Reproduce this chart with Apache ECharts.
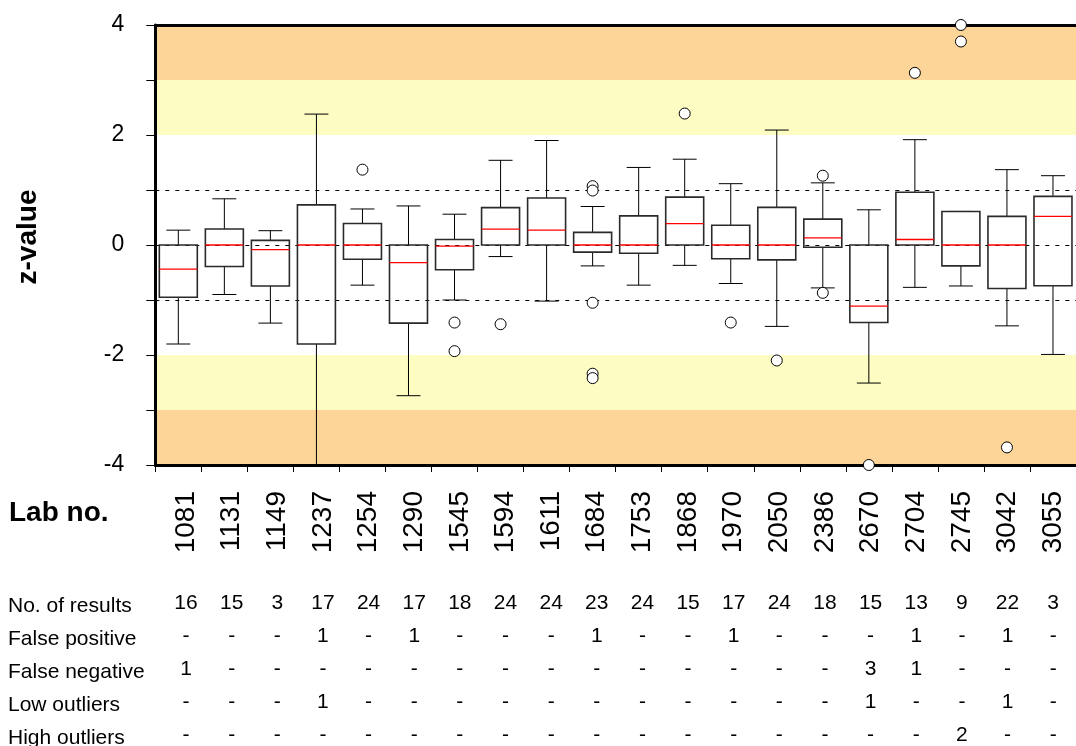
<!DOCTYPE html>
<html>
<head>
<meta charset="utf-8">
<script src="https://cdn.jsdelivr.net/npm/echarts@6/dist/echarts.min.js"></script>
<style>
  html, body { margin: 0; padding: 0; background: #fff; }
  #chart { width: 1076px; height: 746px; }
</style>
</head>
<body>
<div id="chart"></div>
<script>
// Laboratory numbers (x categories)
const labs = ['1081', '1131', '1149', '1237', '1254', '1290', '1545', '1594', '1611', '1684',
              '1753', '1868', '1970', '2050', '2386', '2670', '2704', '2745', '3042', '3055'];

// Box-and-whisker statistics of the z-values per lab
const whiskerLow  = [-1.80, -0.90, -1.42, -4.00, -0.73, -2.74, -1.00, -0.21, -1.02, -0.38,
                     -0.73, -0.37, -0.70, -1.48, -0.78, -2.51, -0.77, -0.745, -1.47, -1.99];
const quartile1   = [-0.95, -0.39, -0.745, -1.80, -0.26, -1.42, -0.45, 0.00, 0.00, -0.13,
                     -0.15, 0.00, -0.25, -0.27, -0.04, -1.41, 0.00, -0.38, -0.79, -0.74];
const medians     = [-0.44, 0.00, -0.085, 0.00, 0.00, -0.32, -0.02, 0.29, 0.27, 0.00,
                     0.00, 0.39, 0.00, 0.00, 0.13, -1.11, 0.10, 0.00, 0.00, 0.52];
const quartile3   = [0.00, 0.29, 0.085, 0.73, 0.39, 0.00, 0.10, 0.68, 0.855, 0.23,
                     0.53, 0.87, 0.36, 0.685, 0.47, 0.00, 0.96, 0.61, 0.52, 0.885];
const whiskerHigh = [0.27, 0.84, 0.26, 2.38, 0.655, 0.71, 0.56, 1.54, 1.90, 0.70,
                     1.41, 1.56, 1.115, 2.09, 1.13, 0.64, 1.915, 0.61, 1.37, 1.26];

// Individual results outside the whiskers
const outlierLabs   = ['1254', '1545', '1545', '1594', '1684', '1684', '1684', '1684', '1684',
                       '1868', '1970', '2050', '2386', '2386', '2670', '2704', '2745', '2745', '3042'];
const outlierValues = [1.37, -1.41, -1.93, -1.44, 1.07, 0.99, -1.05, -2.34, -2.42,
                       2.39, -1.41, -2.10, 1.26, -0.87, -4.00, 3.13, 4.00, 3.70, -3.68];

// Summary table below the chart (0 is printed as "-")
const resultCounts   = [16, 15, 3, 17, 24, 17, 18, 24, 24, 23, 24, 15, 17, 24, 18, 15, 13, 9, 22, 3];
const falsePositives = [0, 0, 0, 1, 0, 1, 0, 0, 0, 1, 0, 0, 1, 0, 0, 0, 1, 0, 1, 0];
const falseNegatives = [1, 0, 0, 0, 0, 0, 0, 0, 0, 0, 0, 0, 0, 0, 0, 3, 1, 0, 0, 0];
const lowOutliers    = [0, 0, 0, 1, 0, 0, 0, 0, 0, 0, 0, 0, 0, 0, 0, 1, 0, 0, 1, 0];
const highOutliers   = [0, 0, 0, 0, 0, 0, 0, 0, 0, 0, 0, 0, 0, 0, 0, 0, 0, 2, 0, 0];
const rowTitles = ['No. of results', 'False positive', 'False negative', 'Low outliers', 'High outliers'];
const tableRows = [resultCounts, falsePositives, falseNegatives, lowOutliers, highOutliers];

// Y axis: labelled ticks and reference levels
const yLabelValues = [-4, -2, 0, 2, 4];
const guideLevels = [-1, 0, 1];
const warningBands = [[-3, -2], [2, 3]];
const actionBands = [[-4, -3], [3, 4]];

const FONT = '"Liberation Sans", Arial, Helvetica, sans-serif';
const ORANGE = '#FDD598';
const YELLOW = '#FCFCC3';

// vertical centres of the table rows
const rowY = [606, 639.5, 672.5, 705.5, 738.5];
const AXIS_Y = 465;

const boxData = labs.map((_, i) => [i, whiskerLow[i], quartile1[i], medians[i], quartile3[i], whiskerHigh[i]]);
const outlierData = outlierLabs.map((lab, i) => [lab, outlierValues[i]]);

function renderBox(params, api) {
  const idx = api.value(0);
  const lo = api.coord([idx, api.value(1)]);
  const q1 = api.coord([idx, api.value(2)]);
  const md = api.coord([idx, api.value(3)]);
  const q3 = api.coord([idx, api.value(4)]);
  const hi = api.coord([idx, api.value(5)]);
  const band = api.size([1, 0])[0];
  const cx = md[0];
  const bw = band * 0.825;
  const cw = band * 0.52;
  const whisker = { stroke: '#000', lineWidth: 1 };
  return {
    type: 'group',
    children: [
      { type: 'line', shape: { x1: cx, y1: hi[1], x2: cx, y2: q3[1] }, style: whisker },
      { type: 'line', shape: { x1: cx, y1: q1[1], x2: cx, y2: lo[1] }, style: whisker },
      { type: 'line', shape: { x1: cx - cw / 2, y1: hi[1], x2: cx + cw / 2, y2: hi[1] }, style: whisker },
      { type: 'line', shape: { x1: cx - cw / 2, y1: lo[1], x2: cx + cw / 2, y2: lo[1] }, style: whisker },
      { type: 'rect', shape: { x: cx - bw / 2, y: q3[1], width: bw, height: q1[1] - q3[1] },
        style: { fill: 'none', stroke: '#2a2a2a', lineWidth: 1.6 } },
      { type: 'line', shape: { x1: cx - bw / 2, y1: md[1], x2: cx + bw / 2, y2: md[1] },
        style: { stroke: '#ff0000', lineWidth: 1.3 } }
    ]
  };
}

const tableAxes = tableRows.map((row, k) => ({
  gridIndex: 1,
  type: 'category',
  data: labs,
  position: 'bottom',
  offset: rowY[k] - AXIS_Y,
  axisLine: { show: false, onZero: false },
  axisTick: { show: false },
  axisLabel: {
    interval: 0, margin: 0, fontSize: 21, fontFamily: FONT, color: '#000',
    verticalAlign: 'middle', lineHeight: 21,
    formatter: (v, i) => (row[i] ? String(row[i]) : '-')
  }
}));

const option = {
  animation: false,
  textStyle: { fontFamily: FONT },
  grid: [
    { left: 155.3, top: 25, width: 930.2, height: 440 },
    { left: 163.2, top: 25, width: 921.2, height: 440 }
  ],
  xAxis: [
    {
      gridIndex: 0, type: 'category', data: labs, position: 'bottom', z: 3,
      axisLine: { show: true, onZero: false, lineStyle: { color: '#000', width: 3 } },
      axisTick: { show: true, length: 7, lineStyle: { color: '#000', width: 1 } },
      axisLabel: { show: false }
    },
    {
      gridIndex: 0, type: 'category', data: labs, position: 'top', z: 3,
      axisLine: { show: true, onZero: false, lineStyle: { color: '#000', width: 3 } },
      axisTick: { show: false },
      axisLabel: { show: false }
    },
    {
      gridIndex: 1, type: 'category', data: labs, position: 'bottom',
      axisLine: { show: false, onZero: false },
      axisTick: { show: false },
      axisLabel: { interval: 0, rotate: 90, margin: 29, fontSize: 28, fontFamily: FONT, color: '#000' }
    }
  ].concat(tableAxes),
  yAxis: [
    {
      gridIndex: 0, type: 'value', min: -4, max: 4, interval: 1, z: 3,
      axisLine: { show: true, lineStyle: { color: '#000', width: 3 } },
      axisTick: { show: true, length: 9, lineStyle: { color: '#000', width: 1 } },
      splitLine: { show: false },
      axisLabel: {
        margin: 31, fontSize: 23, fontFamily: FONT, color: '#000',
        formatter: v => (yLabelValues.includes(v) ? String(v) : '')
      }
    },
    { gridIndex: 1, type: 'value', show: false }
  ],
  graphic: [
    {
      type: 'text', x: 28, y: 237, rotation: Math.PI / 2,
      style: { text: 'z-value', font: 'bold 28px ' + FONT, fill: '#000', align: 'center', verticalAlign: 'middle' }
    },
    {
      type: 'text', x: 9, y: 513,
      style: { text: 'Lab no.', font: 'bold 28px ' + FONT, fill: '#000', align: 'left', verticalAlign: 'middle' }
    }
  ].concat(rowTitles.map((t, k) => ({
    type: 'text', x: 8, y: rowY[k],
    style: { text: t, font: '21px ' + FONT, fill: '#000', align: 'left', verticalAlign: 'middle' }
  }))),
  series: [
    {
      type: 'custom',
      xAxisIndex: 0, yAxisIndex: 0,
      z: 4,
      silent: true,
      encode: { x: 0, y: [1, 2, 3, 4, 5] },
      data: boxData,
      renderItem: renderBox
    },
    {
      type: 'scatter',
      xAxisIndex: 0, yAxisIndex: 0,
      z: 5,
      silent: true,
      clip: false,
      symbol: 'circle',
      symbolSize: 11,
      itemStyle: { color: '#fff', borderColor: '#000', borderWidth: 1, opacity: 1 },
      data: outlierData,
      markArea: {
        z: 1,
        silent: true,
        data: actionBands.map(b => [{ yAxis: b[0], itemStyle: { color: ORANGE, opacity: 1 } }, { yAxis: b[1] }])
          .concat(warningBands.map(b => [{ yAxis: b[0], itemStyle: { color: YELLOW, opacity: 1 } }, { yAxis: b[1] }]))
      },
      markLine: {
        z: 2,
        silent: true,
        symbol: ['none', 'none'],
        label: { show: false },
        lineStyle: { color: '#000', width: 1, type: [4, 6] },
        emphasis: { disabled: true },
        data: guideLevels.map(v => ({ yAxis: v }))
      }
    }
  ]
};

const chart = echarts.init(document.getElementById('chart'), null, { renderer: 'canvas' });
chart.setOption(option);
</script>
</body>
</html>
